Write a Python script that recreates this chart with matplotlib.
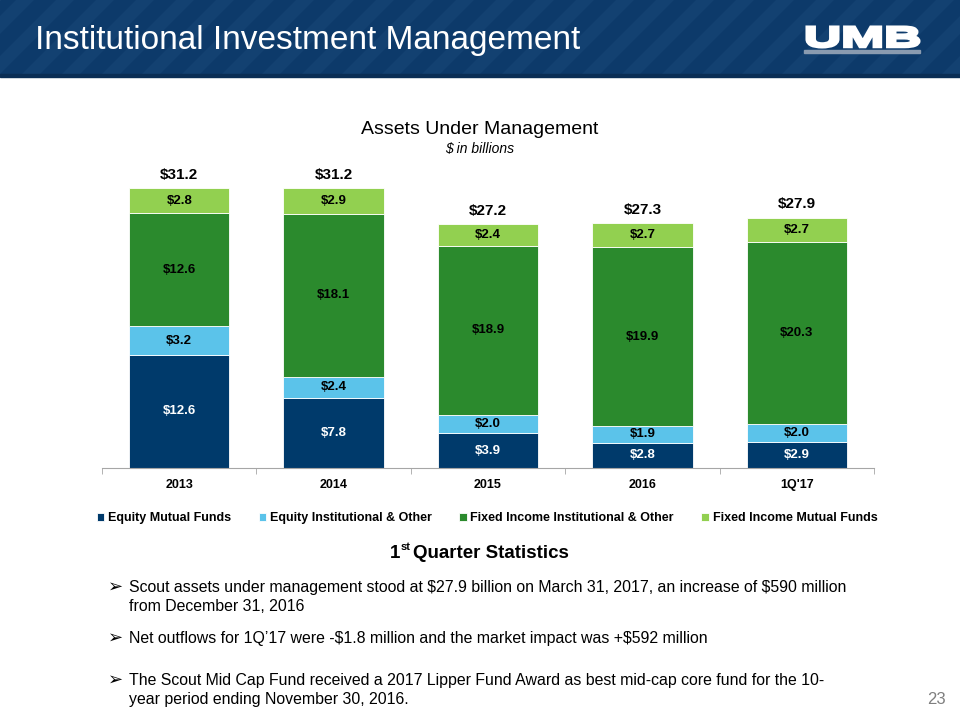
import numpy as np
import matplotlib.pyplot as plt
from matplotlib.patches import Rectangle, Polygon, PathPatch
from matplotlib.textpath import TextPath
from matplotlib.font_manager import FontProperties
from matplotlib.transforms import Affine2D

plt.rcParams['font.family'] = ['Liberation Sans', 'DejaVu Sans']

# data ($ in billions)
categories = ['2013', '2014', '2015', '2016', "1Q'17"]
equity_mutual = [12.6, 7.8, 3.9, 2.8, 2.9]
equity_inst = [3.2, 2.4, 2.0, 1.9, 2.0]
fixed_inst = [12.6, 18.1, 18.9, 19.9, 20.3]
fixed_mutual = [2.8, 2.9, 2.4, 2.7, 2.7]
totals = [31.2, 31.2, 27.2, 27.3, 27.9]

series_names = ['Equity Mutual Funds', 'Equity Institutional & Other',
                'Fixed Income Institutional & Other', 'Fixed Income Mutual Funds']
series_colors = ['#003A6B', '#5BC3EA', '#2B8A2D', '#92D050']
label_colors = ['white', 'black', 'black', 'black']

bullets = [
    "Scout assets under management stood at \\$27.9 billion on March 31, 2017, an increase of \\$590 million\nfrom December 31, 2016",
    "Net outflows for 1Q\u201917 were -\\$1.8 million and the market impact was +\\$592 million",
    "The Scout Mid Cap Fund received a 2017 Lipper Fund Award as best mid-cap core fund for the 10-\nyear period ending November 30, 2016.",
]

W, H = 960, 720
fig = plt.figure(figsize=(9.6, 7.2), dpi=100)

# page layer in pixel coords
bg = fig.add_axes([0, 0, 1, 1])
bg.set_xlim(0, W)
bg.set_ylim(H, 0)
bg.axis('off')
bg.add_patch(Rectangle((0, 0), W, 76, color='#0D3A6A', zorder=0))
for x0 in range(-100, W + 100, 40):
    bg.add_patch(Polygon([(x0, 76), (x0 + 18, 76), (x0 + 18 + 76, 0), (x0 + 76, 0)],
                         closed=True, color='#1B4A7B', alpha=0.45, lw=0, zorder=1))
bg.add_patch(Rectangle((0, 74), W, 3, color='#0A2E55', zorder=2))
bg.text(35, 40, 'Institutional Investment Management', color='white',
        fontsize=24, va='center', ha='left', zorder=3)

# logo: wide heavy letters fitted into a box
tp = TextPath((0, 0), 'UMB', size=20, prop=FontProperties(family='Liberation Sans', weight='bold'))
ext = tp.get_extents()
sx = (919 - 807) / ext.width
sy = (47 - 27) / ext.height
tr = Affine2D().translate(-ext.x0, -ext.y0).scale(sx, -sy).translate(807, 47)
bg.add_patch(PathPatch(tr.transform_path(tp), facecolor='white', edgecolor='white', lw=2.2, zorder=3))
bg.add_patch(Rectangle((804, 50), 116, 3, color='#8A9BB0', zorder=3))

bg.text(480, 129, 'Assets Under Management', fontsize=14, ha='center', va='center')
bg.text(480, 149, '$ in billions', fontsize=10, style='italic', ha='center', va='center')

# heading with superscript
r = fig.canvas.get_renderer()
t1 = bg.text(390, 553, '1', fontsize=13.5, fontweight='bold', va='center', ha='left')
x1 = 390 + t1.get_window_extent(r).width
t2 = bg.text(x1, 547, 'st', fontsize=8, fontweight='bold', va='center', ha='left')
x2 = x1 + t2.get_window_extent(r).width + 3
bg.text(x2, 553, 'Quarter Statistics', fontsize=13.5, fontweight='bold', va='center', ha='left')

ys = [587, 638, 680]
for y, txt in zip(ys, bullets):
    bg.text(108, y, '\u27a2', fontsize=13, va='center', ha='left',
            family=['DejaVu Sans'])
    bg.text(129, y - 7, txt, fontsize=11.4, va='top', ha='left', linespacing=1.33)

bg.text(946, 700, '23', fontsize=12, color='#7F7F7F', ha='right', va='center')

# chart
ax = fig.add_axes([102 / W, 1 - 468 / H, 772 / W, 308 / H])
x = np.arange(len(categories))
bw = 0.65
bottom = np.zeros(len(categories))
for vals, name, col, lc in zip([equity_mutual, equity_inst, fixed_inst, fixed_mutual],
                               series_names, series_colors, label_colors):
    vals = np.array(vals)
    ax.bar(x, vals, bw, bottom=bottom, color=col, label=name, edgecolor='white', linewidth=0.6)
    for xi, b, v in zip(x, bottom, vals):
        ax.text(xi, b + v / 2, f'${v:.1f}', ha='center', va='center', fontsize=9.5,
                fontweight='bold', color=lc)
    bottom += vals

for xi, t in zip(x, totals):
    ax.text(xi, t + 0.7, f'${t:.1f}', ha='center', va='bottom', fontsize=11, fontweight='bold')

ax.set_xlim(-0.5, len(categories) - 0.5)
ax.set_ylim(0, 308 / 8.97)
ax.set_yticks([])
ax.set_xticks(x)
ax.set_xticklabels(categories, fontsize=9, fontweight='bold')
ax.tick_params(axis='x', which='major', length=0, pad=8)
ax.set_xticks(np.arange(-0.5, len(categories)), minor=True)
ax.tick_params(axis='x', which='minor', length=4, color='#A6A6A6')
for s in ['top', 'right', 'left']:
    ax.spines[s].set_visible(False)
ax.spines['bottom'].set_color('#A6A6A6')

leg = fig.legend(loc='center', bbox_to_anchor=(487 / W, 1 - 518 / H), ncol=4,
                 frameon=False, handlelength=0.6, handleheight=0.6, handletextpad=0.3,
                 columnspacing=2.2, prop={'size': 9, 'weight': 'bold'})

fig.savefig('out.png', dpi=100)
